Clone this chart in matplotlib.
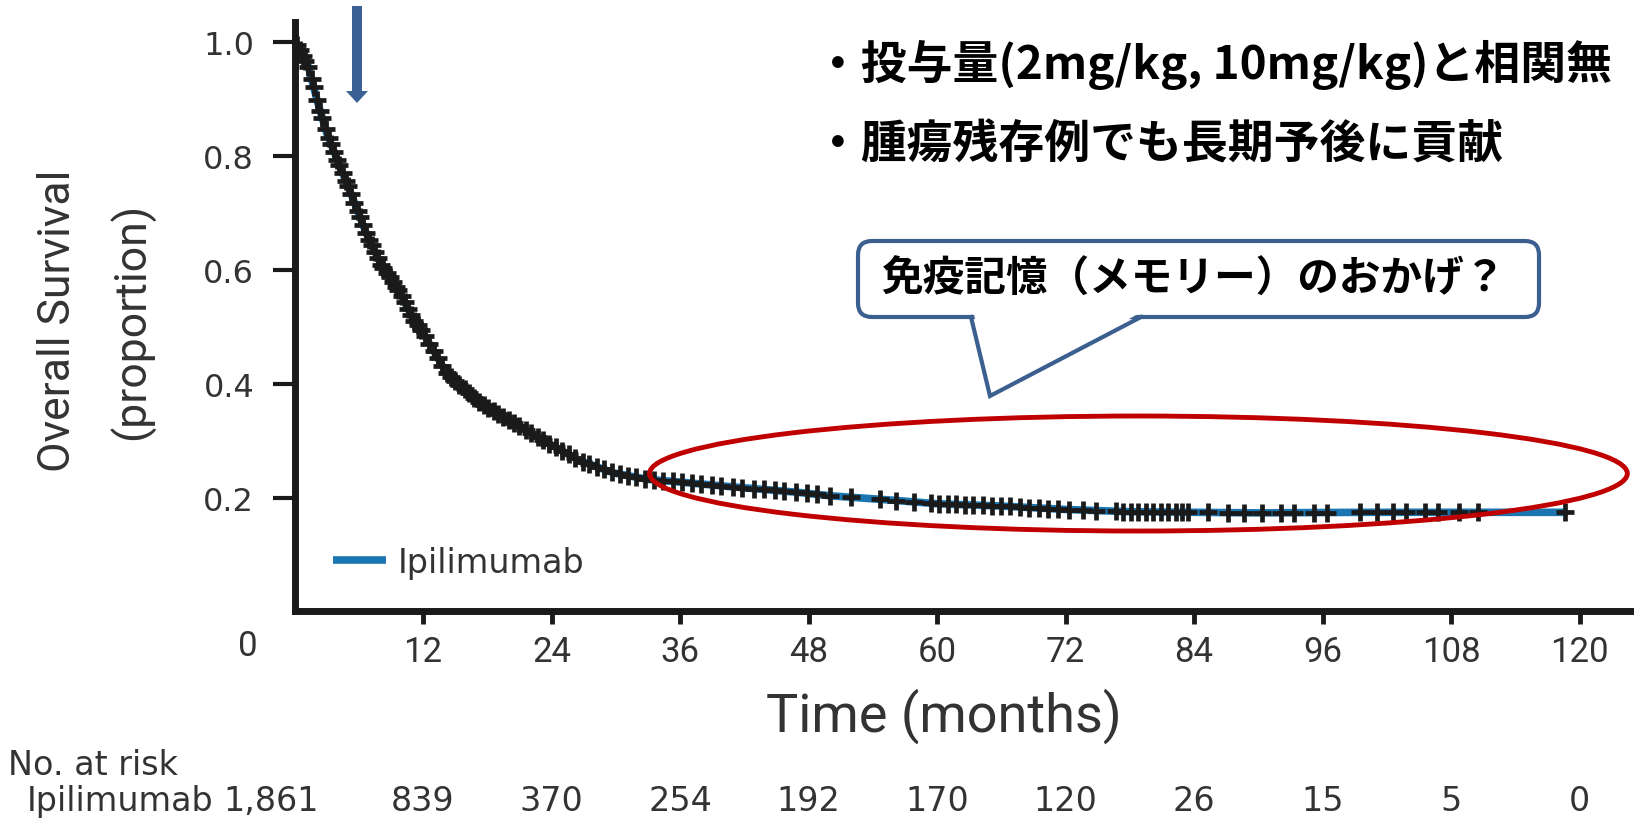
import numpy as np
import matplotlib
matplotlib.use("Agg")
import matplotlib.pyplot as plt
from matplotlib.patches import Ellipse, FancyBboxPatch, Polygon, FancyArrow
from matplotlib.transforms import ScaledTranslation

plt.rcParams['font.family'] = ['DejaVu Sans']

# Kaplan-Meier curve (months, proportion alive)
months = [0, 0.5, 1.3, 2.1, 3.0, 4.25, 5.5, 6.7, 8.0, 9.85, 11.1, 12, 14.2, 17.3,
          20.4, 23.6, 26.7, 29.8, 32.9, 36, 40.7, 47, 50, 56, 60, 66, 72, 78,
          90, 100, 118.6]
survival = [1.0, 0.985, 0.956, 0.898, 0.840, 0.781, 0.723, 0.664, 0.612, 0.56,
            0.513, 0.49, 0.419, 0.367, 0.332, 0.297, 0.265, 0.244, 0.233, 0.228,
            0.22, 0.21, 0.204, 0.196, 0.19, 0.186, 0.18, 0.176, 0.174, 0.175, 0.175]

# censoring marks (months)
censored = [0.2, 0.5, 0.8, 1.0, 1.3, 1.6, 1.8, 2.1, 2.4, 2.6, 2.9, 3.2, 3.4, 3.7,
            4.0, 4.2, 4.5, 4.8, 5.0, 5.3, 5.6, 5.9, 6.1, 6.4, 6.7, 7.0, 7.2, 7.5,
            7.8, 8.1, 8.3, 8.6, 8.9, 9.2, 9.5, 9.7, 10.0, 10.3, 10.6, 10.9, 11.2,
            11.5, 11.8, 12.2, 12.6, 13.0, 13.4, 13.8, 14.2, 14.6, 15.0, 15.4, 15.9,
            16.3, 16.8, 17.2, 17.7, 18.1, 18.6, 19.0, 19.5, 20.0, 20.5, 21.0, 21.6,
            22.1, 22.7, 23.2, 23.8, 24.4, 25.0, 25.6, 26.2, 26.9, 27.5, 28.2, 28.9,
            29.6, 30.4, 31.1, 31.9, 32.7, 33.6, 34.4, 35.3, 36.2, 37.1, 38.0, 39.0,
            39.8, 40.9, 41.8, 42.9, 43.8, 44.9, 45.7, 46.8, 47.9, 48.8, 50.0, 52.0,
            54.7, 56.2, 57.8, 59.4, 60.2, 61.0, 61.8, 62.6, 63.4, 64.3, 65.1, 66.0,
            66.8, 67.7, 68.6, 69.5, 70.4, 71.3, 72.3, 73.6, 74.8, 76.7, 77.4, 78.1,
            78.8, 79.5, 80.2, 80.9, 81.6, 82.3, 82.9, 83.4, 85.3, 87.2, 88.7, 90.3,
            92.1, 93.3, 95.2, 96.4, 99.5, 101.1, 102.6, 103.8, 105.6, 106.8, 108.7,
            110.5, 118.6]

x_ticks = [12, 24, 36, 48, 60, 72, 84, 96, 108, 120]
y_ticks = [0.2, 0.4, 0.6, 0.8, 1.0]
risk_months = [0, 12, 24, 36, 48, 60, 72, 84, 96, 108, 120]
at_risk = ['1,861', '839', '370', '254', '192', '170', '120', '26', '15', '5', '0']

note1 = '・投与量(2mg/kg, 10mg/kg)と相関無'
note2 = '・腫瘍残存例でも長期予後に貢献'
callout = '免疫記憶（メモリー）のおかげ？'

BLUE = '#1b75b0'
TXT = '#333333'
JP = ['Noto Sans CJK JP', 'DejaVu Sans']

W, H = 1636, 820
fig = plt.figure(figsize=(W / 100, H / 100), dpi=100)
AX_L, AX_R, AX_T, AX_B = 294.5, 1630, 23, 612
ax = fig.add_axes([AX_L / W, 1 - AX_B / H, (AX_R - AX_L) / W, (AX_B - AX_T) / H])


def ax_frac(px, py):
    return (px - AX_L) / (AX_R - AX_L), (AX_B - py) / (AX_B - AX_T)


line, = ax.plot(months, survival, color=BLUE, lw=5.5, label='Ipilimumab',
                solid_capstyle='butt', zorder=2)
cens_y = np.interp(censored, months, survival)
ax.plot(censored, cens_y, ls='none', marker='+', ms=13, mew=3.4,
        color='#1a1a1a', zorder=3)

ax.set_xlim(0, 124.7)
ax.set_ylim(0.002, 1.0345)
for s in ['top', 'right']:
    ax.spines[s].set_visible(False)
for s in ['left', 'bottom']:
    ax.spines[s].set_linewidth(5)
    ax.spines[s].set_color('#1a1a1a')

ax.set_xticks(x_ticks, [str(v) for v in x_ticks], fontfamily='Roboto',
              fontsize=25, color=TXT)
ax.set_yticks(y_ticks, ['%.1f' % v for v in y_ticks], fontsize=23, color=TXT)
ax.tick_params(axis='x', length=9, width=3.5, pad=8, color='#1a1a1a')
ax.tick_params(axis='y', length=16, width=3, pad=13, color='#1a1a1a')

# "0" label sits left of the corner, like in the original figure
off0 = ScaledTranslation(-46.5 / 100, 0, fig.dpi_scale_trans)
ax.text(0, ax_frac(0, 647)[1], '0', transform=ax.get_xaxis_transform() + off0,
        ha='center', va='center', fontfamily='Roboto', fontsize=25, color=TXT)

ax.legend(handles=[line], loc='center left', bbox_to_anchor=ax_frac(333, 563),
          frameon=False, fontsize=24, handlelength=1.6, handletextpad=0.35,
          borderpad=0, borderaxespad=0, labelcolor=TXT)

# red ellipse around the plateau
ax.add_patch(Ellipse((78.8, 0.243), 91.3, 0.2016, fill=False, edgecolor='#c00000',
                     lw=3.5, clip_on=False, zorder=4))

# number at risk table
y_row = ax_frac(0, 802)[1]
for i, (m, n) in enumerate(zip(risk_months, at_risk)):
    tr = ax.get_xaxis_transform()
    if i == 0:
        tr = tr + ScaledTranslation(-23.5 / 100, 0, fig.dpi_scale_trans)
    ax.text(m, y_row, n, transform=tr, ha='center', va='center', fontsize=24,
            color=TXT, clip_on=False)

# overlay in pixel coordinates for labels and slide annotations
ov = fig.add_axes([0, 0, 1, 1], zorder=5)
ov.set_xlim(0, W)
ov.set_ylim(H, 0)
ov.axis('off')
ov.patch.set_alpha(0)

ov.text(944, 716, 'Time (months)', ha='center', va='center', fontfamily='Roboto',
        fontsize=39, color=TXT)
ov.text(70, 321, 'Overall Survival', rotation=90, rotation_mode='anchor',
        ha='center', va='baseline', fontfamily='Roboto', fontsize=32, color=TXT)
ov.text(145, 321, '(proportion)', rotation=90, rotation_mode='anchor',
        ha='center', va='baseline', fontfamily='Roboto', fontsize=32, color=TXT)

ov.text(8, 766, 'No. at risk', ha='left', va='center', fontsize=24, color=TXT)
ov.text(214, 802, 'Ipilimumab', ha='right', va='center', fontsize=24, color=TXT)

ov.add_patch(FancyArrow(357, 7, 0, 97, width=10, head_width=22, head_length=12,
                        length_includes_head=True, color='#3b6094', lw=0))

ov.text(815, 65, note1, ha='left', va='center', family=JP, fontweight='bold',
        fontsize=33, color='black')
ov.text(815, 146, note2, ha='left', va='center', family=JP, fontweight='bold',
        fontsize=33, color='black')

EDGE = '#3b5f8f'
ov.add_patch(FancyBboxPatch((858, 242), 681, 76, boxstyle='round,pad=0,rounding_size=14',
                            facecolor='white', edgecolor=EDGE, lw=3, zorder=1))
ov.add_patch(Polygon([(974, 315), (990, 396), (1138, 315)], closed=True,
                     facecolor='white', edgecolor='none', zorder=2))
ov.plot([971, 990, 1141], [318, 397, 318], color=EDGE, lw=3, zorder=3,
        solid_joinstyle='miter')
ov.text(1193, 280, callout, ha='center', va='center', family=JP, fontweight='bold',
        fontsize=30, color='black', zorder=4)

fig.savefig('out.png', dpi=100)
